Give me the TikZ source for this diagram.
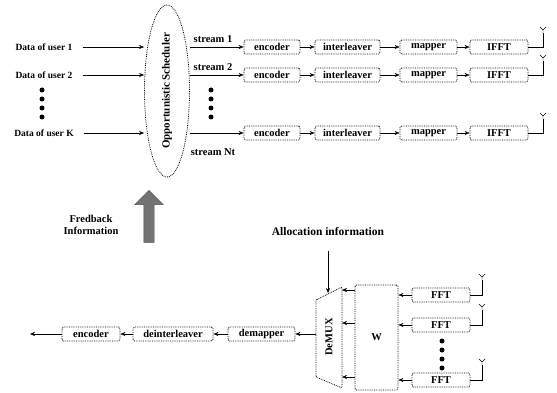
\documentclass[tikz,border=0pt]{standalone}
\usepackage{fontspec}
\setmainfont{Liberation Serif}
\usetikzlibrary{arrows.meta, positioning, shapes.geometric, shapes.arrows}

\begin{document}
\begin{tikzpicture}[
        x=1pt, y=-1pt,
        font=\bfseries\fontsize{10.5}{12}\selectfont,
        box/.style={rectangle, rounded corners=1.5pt, draw, densely dotted, thick, minimum height=14pt, inner sep=1pt, align=center},
        label/.style={inner sep=1pt, align=center},
        edge/.style={-{Stealth[length=5pt, width=4pt]}, thin},
        wire/.style={thin},
        dot/.style={circle, fill, inner sep=0pt, minimum size=5pt}
    ]
        \useasboundingbox (0,0) rectangle (557,393);

        % Scheduler
        \node[ellipse, draw, densely dotted, thick, rotate=90, minimum width=172pt, minimum height=45pt, inner sep=0pt,
              font=\bfseries\fontsize{11}{13}\selectfont] (sched) at (167,91) {Opportunistic Scheduler};

        % Transmit chains
        \foreach \r/\y in {1/47, 2/75, 3/133} {
            \node[box, minimum width=56pt] (enc\r) at (272,\y) {encoder};
            \node[box, minimum width=65pt] (int\r) at (347.5,\y) {interleaver};
            \node[box, minimum width=57pt] (map\r) at (428.5,\y) {mapper};
            \node[box, minimum width=58pt] (ifft\r) at (499,\y) {IFFT};
            \coordinate (ant\r) at (543,\y-14);

            \draw[edge] (enc\r -| sched.south) -- (enc\r);
            \draw[edge] (enc\r) -- (int\r);
            \draw[edge] (int\r) -- (map\r);
            \draw[edge] (map\r) -- (ifft\r);
            \draw[wire] (ifft\r.east) -| (ant\r);
            \draw[wire] (ant\r) -- ++(0,-3) ++(-3,-3) -- ++(3,3) -- ++(3,-3);
        }
        \node[label] (str1) at (213,39) {stream 1};
        \node[label] (str2) at (213,67) {stream 2};
        \node[label] (strN) at (213,152) {stream Nt};

        % Users
        \node[label, font=\bfseries\fontsize{9.5}{11}\selectfont] (u1) at (44,47) {Data of user 1};
        \node[label, font=\bfseries\fontsize{9.5}{11}\selectfont] (u2) at (44,75) {Data of user 2};
        \node[label, font=\bfseries\fontsize{9.5}{11}\selectfont] (u3) at (44,133) {Data of user K};
        \foreach \r in {1,2,3}
            \draw[edge] ([xshift=9pt]u\r.east) -- (u\r -| sched.north);

        \foreach \d in {0,...,3} {
            \node[dot] (ldot\d) at (42,90+\d*9) {};
            \node[dot] (sdot\d) at (211,90+\d*9) {};
            \node[dot] (fdot\d) at (442,341+\d*9) {};
        }

        % Feedback
        \node[single arrow, draw=black!70, fill=black!55, rotate=90, minimum height=52pt, minimum width=28pt,
              inner sep=5pt, single arrow head extend=9pt] (fb) at (149,219) {};
        \node[label] (fbtext) at (91,225) {Fredback\\Information};

        % Receiver
        \node[label, font=\bfseries\fontsize{11.5}{13}\selectfont] (alloc) at (328,232) {Allocation information};
        \coordinate (dmxtop) at (328,293);
        \coordinate (dmxL) at (316,334);
        \coordinate (dmx1) at (342,290);
        \coordinate (dmx2) at (342,323);
        \coordinate (dmx3) at (342,377);
        \draw[densely dotted, thick, rounded corners=1pt] (316,300) -- (342,287) -- (342,388) -- (316,377) -- cycle;
        \node[label, rotate=90] (dmx) at (329,337) {DeMUX};
        \draw[edge] ([yshift=-14pt]alloc.south) -- (dmxtop);

        \node[box, minimum width=43pt, minimum height=105pt] (w) at (376.5,337.5) {W};
        \foreach \r/\y in {1/295, 2/325, 3/380} {
            \node[box, minimum width=58pt] (fft\r) at (441,\y) {FFT};
            \coordinate (rant\r) at (482,\y-15);
            \draw[edge] (fft\r) -- (fft\r -| w.east);
            \draw[wire] (fft\r.east) -| (rant\r);
            \draw[wire] (rant\r) -- ++(0,-3) ++(-3,-3) -- ++(3,3) -- ++(3,-3);
        }
        \foreach \r in {1,2,3}
            \draw[edge] (w.west |- dmx\r) -- (dmx\r);

        \node[box, minimum width=67pt] (demap) at (261.5,334) {demapper};
        \node[box, minimum width=80pt] (deint) at (173,334) {deinterleaver};
        \node[box, minimum width=58pt] (dec) at (91,334) {encoder};
        \coordinate (outL) at (30,334);
        \draw[edge] (dmxL) -- (demap);
        \draw[edge] (demap) -- (deint);
        \draw[edge] (deint) -- (dec);
        \draw[edge] (dec) -- (outL);

    \end{tikzpicture}
\end{document}
